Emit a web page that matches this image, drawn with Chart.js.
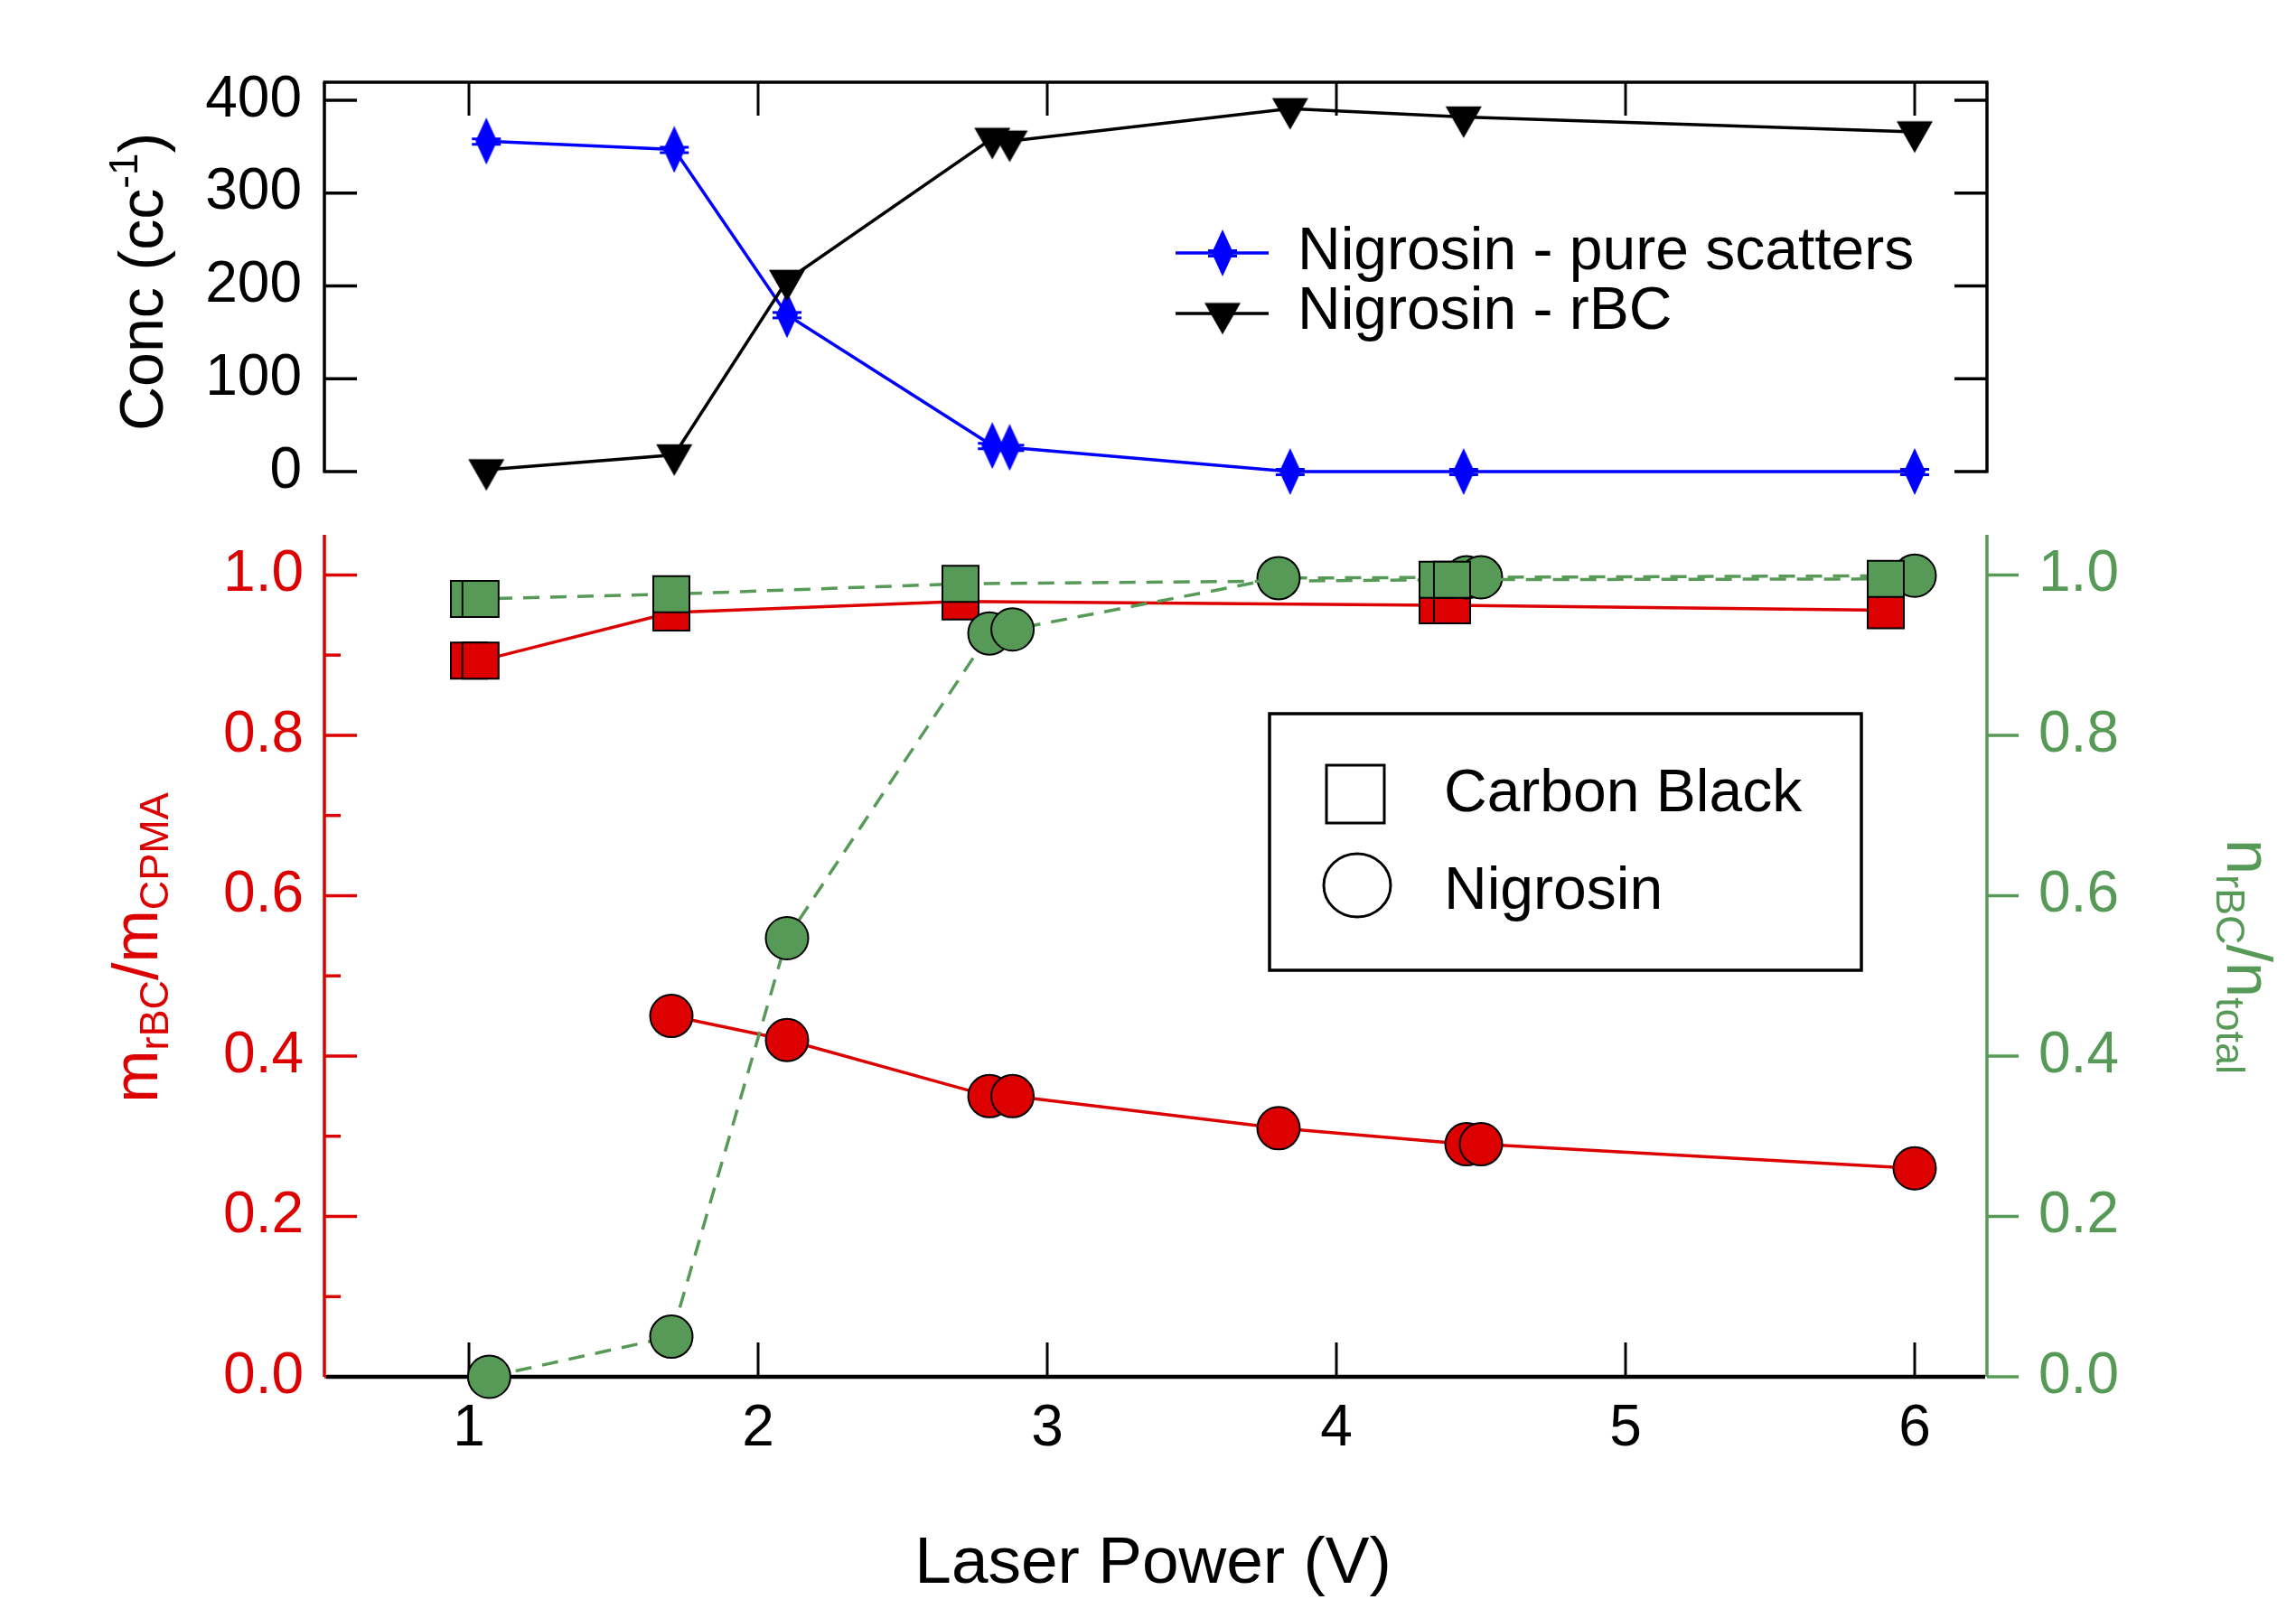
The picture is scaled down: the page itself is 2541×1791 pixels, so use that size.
<!DOCTYPE html>
<html><head><meta charset="utf-8">
<script src="https://cdn.jsdelivr.net/npm/chart.js@4/dist/chart.umd.min.js"></script>
<style>
html,body{margin:0;padding:0;background:#fff;}
#wrap{position:relative;width:2541px;height:1791px;background:#fff;}
#wrap canvas{position:absolute;left:0;top:0;}
</style></head><body>
<div id="wrap">
<canvas id="topChart" width="2541" height="1791"></canvas>
<canvas id="botChart" width="2541" height="1791"></canvas>
</div>
<script>
// ---------------- data ----------------
const xTickValues = [1, 2, 3, 4, 5, 6];
const concTickValues = [0, 100, 200, 300, 400];
const fracTickValues = [0, 0.2, 0.4, 0.6, 0.8, 1.0];
const fracMinorTickValues = [0.1, 0.3, 0.5, 0.7, 0.9];

const concPower = [1.06, 1.71, 2.10, 2.81, 2.87, 3.84, 4.44, 6.00];
const concPureScatters = [356, 347, 169, 28, 26, 0, 0, 0];
const concRBC = [2, 18, 206, 359, 356, 391, 382, 366];

const cbPower = [1.00, 1.04, 1.70, 2.70, 4.35, 4.40, 5.90];
const cbMassRatio = [0.893, 0.893, 0.953, 0.967, 0.962, 0.962, 0.956];
const cbNumberRatio = [0.970, 0.970, 0.976, 0.989, 0.994, 0.994, 0.995];

const nigPower = [1.07, 1.70, 2.10, 2.80, 2.88, 3.80, 4.45, 4.50, 6.00];
const nigMassRatio = [null, 0.450, 0.420, 0.350, 0.350, 0.310, 0.290, 0.290, 0.260];
const nigNumberRatio = [0.000, 0.050, 0.547, 0.927, 0.932, 0.996, 0.997, 0.997, 0.999];

const concLabels = ['Nigrosin - pure scatters', 'Nigrosin - rBC'];
const materialNames = ['Carbon Black', 'Nigrosin'];
const xTitle = 'Laser Power (V)';

// ---------------- styles ----------------
const FONT = '"Liberation Sans", Arial, Helvetica, sans-serif';
const RED = '#DD0000';
const GREEN = '#579A57';
const BLUE = '#0000FF';

function pts(xs, ys) { return xs.map((x, i) => ({ x: x, y: ys[i] })); }

function makeDiamond(color) {
  const w = 34, h = 52;
  const c = document.createElement('canvas'); c.width = w; c.height = h;
  const g = c.getContext('2d'); g.fillStyle = color;
  g.beginPath(); g.moveTo(w / 2, 0); g.lineTo(w / 2 + 12, h / 2); g.lineTo(w / 2, h); g.lineTo(w / 2 - 12, h / 2); g.closePath(); g.fill();
  g.fillRect(1, h / 2 - 4, w - 2, 3);
  g.fillRect(1, h / 2 + 2, w - 2, 3);
  g.fillRect(w / 2 - 2, h / 2 - 4, 4, 9);
  return c;
}
function makeTriangleDown(color) {
  const tw = 40, th = 35;
  const w = 42, h = Math.ceil(th * 4 / 3) + 2;
  const c = document.createElement('canvas'); c.width = w; c.height = h;
  const g = c.getContext('2d'); g.fillStyle = color;
  const cy = h / 2, top = cy - th / 3, bot = cy + th * 2 / 3;
  g.beginPath(); g.moveTo(w / 2 - tw / 2, top); g.lineTo(w / 2 + tw / 2, top); g.lineTo(w / 2, bot); g.closePath(); g.fill();
  return c;
}
const diamondImg = makeDiamond(BLUE);
const triImg = makeTriangleDown('#000');

function richText(ctx, parts, cx, cy, rot, color) {
  ctx.save();
  ctx.translate(cx, cy); ctx.rotate(rot);
  ctx.fillStyle = color; ctx.textBaseline = 'alphabetic'; ctx.textAlign = 'left';
  let total = 0;
  parts.forEach(p => { ctx.font = p.size + 'px ' + FONT; p.w = ctx.measureText(p.t).width; total += p.w; });
  let x = -total / 2;
  parts.forEach(p => { ctx.font = p.size + 'px ' + FONT; ctx.fillText(p.t, x, p.dy || 0); x += p.w; });
  ctx.restore();
}
function line(ctx, x1, y1, x2, y2) { ctx.beginPath(); ctx.moveTo(x1, y1); ctx.lineTo(x2, y2); ctx.stroke(); }

// ---------------- top chart ----------------
const topAxesPlugin = {
  id: 'topAxes',
  beforeDatasetsDraw(chart) {
    const ctx = chart.ctx, ca = chart.chartArea, xs = chart.scales.x, ys = chart.scales.y;
    ctx.save();
    ctx.strokeStyle = '#000'; ctx.lineCap = 'butt';
    ctx.lineWidth = 3.5;
    const y0 = ys.getPixelForValue(0);
    line(ctx, ca.left - 1.5, ca.top, ca.right + 1.5, ca.top);
    line(ctx, ca.left, ca.top, ca.left, y0 + 1.5);
    line(ctx, ca.right, ca.top, ca.right, y0 + 1.5);
    ctx.lineWidth = 3;
    xTickValues.forEach(v => { const px = xs.getPixelForValue(v); line(ctx, px, ca.top, px, ca.top + 37); });
    ctx.lineWidth = 3.5;
    concTickValues.forEach(v => {
      const py = ys.getPixelForValue(v);
      line(ctx, ca.left, py, ca.left + 36, py);
      line(ctx, ca.right - 36, py, ca.right, py);
    });
    ctx.restore();
  },
  afterDraw(chart) {
    const ctx = chart.ctx;
    ctx.save();
    // y title
    richText(ctx, [
      { t: 'Conc (cc', size: 68 },
      { t: '-1', size: 44, dy: -28 },
      { t: ')', size: 68 }
    ], 180, 312, -Math.PI / 2, '#000');
    // legend
    const items = [
      { color: BLUE, img: diamondImg, y: 280, base: 298, label: chart.data.datasets[1].label },
      { color: '#000', img: triImg, y: 347, base: 364, label: chart.data.datasets[0].label }
    ];
    items.forEach(it => {
      ctx.strokeStyle = it.color; ctx.lineWidth = 3.5;
      line(ctx, 1301, it.y, 1404, it.y);
      ctx.drawImage(it.img, 1353 - it.img.width / 2, it.y - it.img.height / 2);
      ctx.fillStyle = '#000'; ctx.font = '66px ' + FONT; ctx.textBaseline = 'alphabetic'; ctx.textAlign = 'left';
      ctx.fillText(it.label, 1436, it.base);
    });
    ctx.restore();
  }
};

new Chart(document.getElementById('topChart'), {
  type: 'line',
  data: {
    datasets: [
      {
        label: concLabels[1], data: pts(concPower, concRBC),
        borderColor: '#000', borderWidth: 3.5, pointStyle: triImg, pointRadius: 20,
        tension: 0, clip: false
      },
      {
        label: concLabels[0], data: pts(concPower, concPureScatters),
        borderColor: BLUE, borderWidth: 3.5, pointStyle: diamondImg, pointRadius: 20,
        tension: 0, clip: false
      }
    ]
  },
  options: {
    responsive: false, animation: false, devicePixelRatio: 1, events: [],
    layout: { padding: { left: 0, top: 91, right: 2541 - 2199, bottom: 1791 - 522 } },
    plugins: { legend: { display: false }, tooltip: { enabled: false } },
    scales: {
      x: { type: 'linear', min: 0.5, max: 6.25, display: false },
      y: {
        type: 'linear', position: 'left', min: 0, max: 419.5,
        afterFit: s => { s.width = 359; },
        afterBuildTicks: s => { s.ticks = concTickValues.map(v => ({ value: v })); },
        grid: { display: false, drawTicks: false }, border: { display: false },
        ticks: { padding: 25, color: '#000', font: { family: FONT, size: 64 } }
      }
    }
  },
  plugins: [topAxesPlugin]
});

// ---------------- bottom chart ----------------
const botAxesPlugin = {
  id: 'botAxes',
  beforeDatasetsDraw(chart) {
    const ctx = chart.ctx, ca = chart.chartArea, xs = chart.scales.x, yl = chart.scales.yL, yr = chart.scales.yR;
    ctx.save(); ctx.lineCap = 'butt';
    // left red axis
    ctx.strokeStyle = RED; ctx.lineWidth = 3.5;
    line(ctx, ca.left, ca.top, ca.left, ca.bottom);
    fracTickValues.forEach(v => { const py = yl.getPixelForValue(v); line(ctx, ca.left, py, ca.left + 36, py); });
    fracMinorTickValues.forEach(v => { const py = yl.getPixelForValue(v); line(ctx, ca.left, py, ca.left + 18, py); });
    // right green axis
    ctx.strokeStyle = GREEN;
    line(ctx, ca.right, ca.top, ca.right, ca.bottom);
    fracTickValues.forEach(v => { const py = yr.getPixelForValue(v); line(ctx, ca.right, py, ca.right + 35, py); });
    // bottom axis
    ctx.strokeStyle = '#000'; ctx.lineWidth = 4.5;
    line(ctx, ca.left + 2, ca.bottom, ca.right - 2, ca.bottom);
    ctx.lineWidth = 3;
    xTickValues.forEach(v => { const px = xs.getPixelForValue(v); line(ctx, px, ca.bottom, px, ca.bottom - 38); });
    ctx.restore();
  },
  afterDraw(chart) {
    const ctx = chart.ctx;
    ctx.save();
    richText(ctx, [
      { t: 'm', size: 70 }, { t: 'rBC', size: 45, dy: 12 },
      { t: '/m', size: 70 }, { t: 'CPMA', size: 45, dy: 12 }
    ], 174, 1049, -Math.PI / 2, RED);
    richText(ctx, [
      { t: 'n', size: 70 }, { t: 'rBC', size: 45, dy: 12 },
      { t: '/n', size: 70 }, { t: 'total', size: 45, dy: 12 }
    ], 2465, 1059, Math.PI / 2, GREEN);
    richText(ctx, [{ t: xTitle, size: 73 }], 1276, 1752, 0, '#000');
    // material legend box
    ctx.strokeStyle = '#000'; ctx.lineWidth = 3.5;
    ctx.strokeRect(1405, 790, 655, 284);
    ctx.lineWidth = 3;
    ctx.strokeRect(1468, 847, 64, 64);
    ctx.beginPath(); ctx.ellipse(1502, 980, 37, 35, 0, 0, Math.PI * 2); ctx.stroke();
    ctx.fillStyle = '#000'; ctx.font = '66px ' + FONT; ctx.textBaseline = 'alphabetic'; ctx.textAlign = 'left';
    ctx.fillText(materialNames[0], 1598, 898);
    ctx.fillText(materialNames[1], 1598, 1006);
    ctx.restore();
  }
};

new Chart(document.getElementById('botChart'), {
  type: 'line',
  data: {
    datasets: [
      {
        label: materialNames[0] + ' number ratio', data: pts(cbPower, cbNumberRatio), yAxisID: 'yR',
        borderColor: GREEN, borderWidth: 3.5, borderDash: [18, 12],
        pointStyle: 'rect', pointRadius: 28.3, pointBackgroundColor: GREEN, pointBorderColor: '#000', pointBorderWidth: 2,
        tension: 0, clip: false
      },
      {
        label: materialNames[1] + ' number ratio', data: pts(nigPower, nigNumberRatio), yAxisID: 'yR',
        borderColor: GREEN, borderWidth: 3.5, borderDash: [18, 12],
        pointStyle: 'circle', pointRadius: 23.5, pointBackgroundColor: GREEN, pointBorderColor: '#000', pointBorderWidth: 2,
        tension: 0, clip: false
      },
      {
        label: materialNames[1] + ' mass ratio', data: pts(nigPower, nigMassRatio), yAxisID: 'yL',
        borderColor: RED, borderWidth: 3.5,
        pointStyle: 'circle', pointRadius: 23.5, pointBackgroundColor: RED, pointBorderColor: '#000', pointBorderWidth: 2,
        tension: 0, clip: false, spanGaps: false
      },
      {
        label: materialNames[0] + ' mass ratio', data: pts(cbPower, cbMassRatio), yAxisID: 'yL',
        borderColor: RED, borderWidth: 3.5,
        pointStyle: 'rect', pointRadius: 28.3, pointBackgroundColor: RED, pointBorderColor: '#000', pointBorderWidth: 2,
        tension: 0, clip: false
      }
    ]
  },
  options: {
    responsive: false, animation: false, devicePixelRatio: 1, events: [],
    layout: { padding: { left: 0, top: 592, right: 0, bottom: 0 } },
    plugins: { legend: { display: false }, tooltip: { enabled: false } },
    scales: {
      x: {
        type: 'linear', position: 'bottom', min: 0.5, max: 6.25,
        afterFit: s => { s.height = 1791 - 1524; },
        afterBuildTicks: s => { s.ticks = xTickValues.map(v => ({ value: v })); },
        grid: { display: false, drawTicks: false }, border: { display: false },
        ticks: { padding: 20, color: '#000', font: { family: FONT, size: 64 }, maxRotation: 0 }
      },
      yL: {
        type: 'linear', position: 'left', min: 0, max: 1.05,
        afterFit: s => { s.width = 359; },
        afterBuildTicks: s => { s.ticks = fracTickValues.map(v => ({ value: v })); },
        grid: { display: false, drawTicks: false }, border: { display: false },
        ticks: { padding: 23, color: RED, font: { family: FONT, size: 64 }, callback: v => Number(v).toFixed(1) }
      },
      yR: {
        type: 'linear', position: 'right', min: 0, max: 1.05,
        afterFit: s => { s.width = 2541 - 2199; },
        afterBuildTicks: s => { s.ticks = fracTickValues.map(v => ({ value: v })); },
        grid: { display: false, drawTicks: false }, border: { display: false },
        ticks: { padding: 57, color: GREEN, font: { family: FONT, size: 64 }, callback: v => Number(v).toFixed(1) }
      }
    }
  },
  plugins: [botAxesPlugin]
});
</script>
</body></html>
